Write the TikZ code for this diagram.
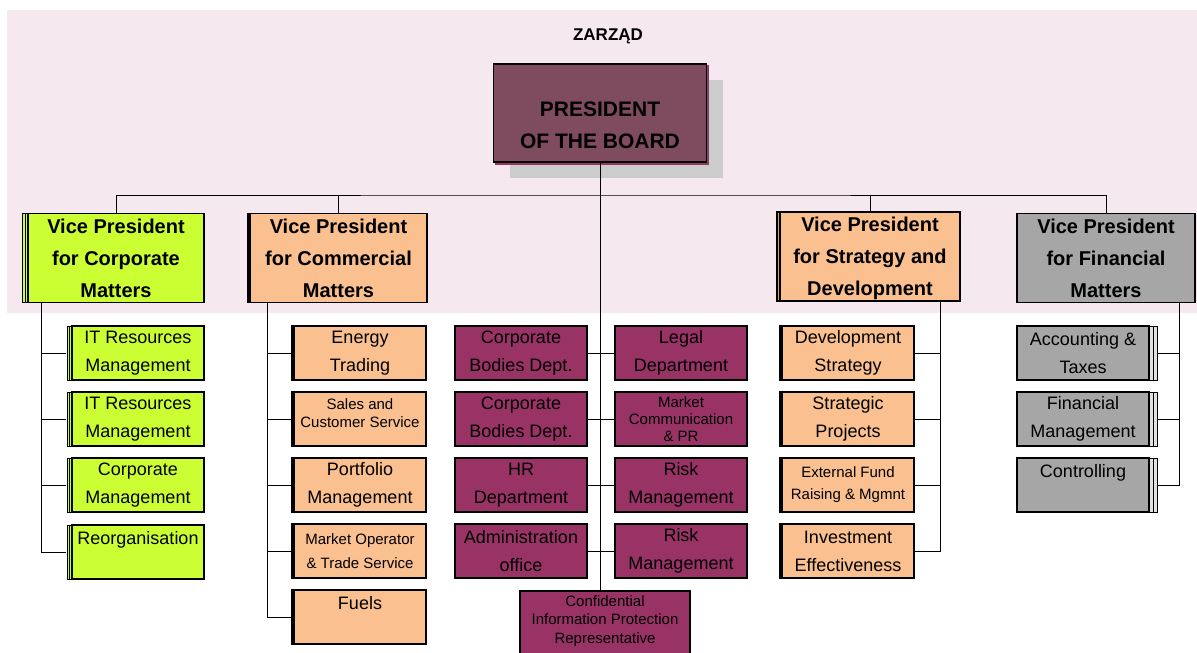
\documentclass[tikz,border=0pt]{standalone}
\usepackage{fontspec}
\setmainfont{Liberation Sans}
\usetikzlibrary{shadows}
\definecolor{bandpink}{HTML}{F5E8EE}
\definecolor{presred}{HTML}{7F4B5F}
\definecolor{deptred}{HTML}{993366}
\definecolor{limegreen}{HTML}{CCFF33}
\definecolor{salmon}{HTML}{FAC090}
\definecolor{midgray}{HTML}{A6A6A6}
\definecolor{stripeyellow}{HTML}{D7B43C}

\begin{document}
\begin{tikzpicture}
    [x=1pt, y=-1pt,
      box/.style={draw, line width=1.5pt, inner sep=0pt, align=center},
      vpbox/.style={box, minimum width=177pt, minimum height=89pt,
        font=\fontsize{20}{32}\selectfont\bfseries},
      unit/.style={box, minimum width=132pt, minimum height=54pt,
        font=\fontsize{18}{28}\selectfont},
      smallunit/.style={unit, font=\fontsize{15}{22}\selectfont},
      leftcopy/.style={copy shadow={shadow xshift=-2pt, shadow yshift=0pt}},
      link/.style={line width=1pt},
     ]
    \useasboundingbox (0,0) rectangle (1197,653);
    \clip (0,0) rectangle (1197,653);
    \fill[bandpink] (7,10) rectangle (1197,313);

    % board
    \node[font=\fontsize{17}{20}\selectfont\bfseries] (zarzad) at (608,36) {ZARZĄD};
    \node[box, fill=presred, minimum width=213pt, minimum height=98pt,
      font=\fontsize{21}{32}\selectfont\bfseries,
      general shadow={fill=black!20, shadow xshift=16pt, shadow yshift=-16pt},
      copy shadow={shadow xshift=2pt, shadow yshift=-2pt, draw=deptred}]
      (pres) at (600,113) {\mbox{}\\[8pt]PRESIDENT\\OF THE BOARD};

    % vice presidents
    \node[vpbox, fill=limegreen, minimum width=176pt,
      double copy shadow={shadow xshift=-3pt, shadow yshift=0pt, line width=0.8pt}]
      (vpcorp) at (116,258) {Vice President\\for Corporate\\Matters};
    \node[vpbox, fill=salmon, leftcopy] (vpcomm) at (338.5,258)
      {Vice President\\for Commercial\\Matters};
    \node[vpbox, fill=salmon, minimum width=180pt,
      copy shadow={shadow xshift=-3pt, shadow yshift=0pt, fill=stripeyellow}]
      (vpstrat) at (870,256.5) {Vice President\\for Strategy and\\Develo\smash{p}ment};
    \node[vpbox, fill=midgray, minimum width=178pt] (vpfin) at (1106,258)
      {Vice President\\for Financial\\Matters};

    % corporate matters
    \tikzset{corpunit/.style={unit, fill=limegreen,
      double copy shadow={shadow xshift=-2.5pt, shadow yshift=0pt, line width=0.8pt}}}
    \node[corpunit] (corp1) at (138,353) {IT Resources\\Management};
    \node[corpunit] (corp2) at (138,419) {IT Resources\\Management};
    \node[corpunit] (corp3) at (138,485) {Corporate\\Management};
    \node[corpunit] (corp4) at (138,552) {Reorganisation\\\mbox{}};

    % commercial matters
    \node[unit, fill=salmon, leftcopy] (comm1) at (360,353) {Energy\\Trading};
    \node[smallunit, fill=salmon, leftcopy, font=\fontsize{15}{18}\selectfont]
      (comm2) at (360,419) {Sales and\\Customer Service\\[-6pt]\mbox{}};
    \node[unit, fill=salmon, leftcopy] (comm3) at (360,485) {Portfolio\\Management};
    \node[smallunit, fill=salmon, leftcopy, font=\fontsize{15}{24}\selectfont]
      (comm4) at (360,551) {Market Operator\\\& Trade Service};
    \node[unit, fill=salmon, leftcopy] (comm5) at (360,617) {Fuels\\\mbox{}};

    % reporting to the president
    \node[unit, fill=deptred] (dl1) at (521,353) {Corporate\\Bodies Dept.};
    \node[unit, fill=deptred] (dl2) at (521,419) {Corporate\\Bodies Dept.};
    \node[unit, fill=deptred] (dl3) at (521,485) {HR\\Department};
    \node[unit, fill=deptred] (dl4) at (521,551) {Administration\\office};
    \node[unit, fill=deptred] (dr1) at (681,353) {Legal\\Department};
    \node[smallunit, fill=deptred, font=\fontsize{15}{17}\selectfont]
      (dr2) at (681,419) {Market\\Communication\\\& PR};
    \node[unit, fill=deptred] (dr3) at (681,485) {Risk\\Management};
    \node[unit, fill=deptred] (dr4) at (681,551) {Risk\\Management};
    \node[box, fill=deptred, minimum width=170pt, minimum height=80pt, anchor=north]
      (conf) at (605,590) {};
    \node[font=\fontsize{15}{18.5}\selectfont, align=center] (conftext) at (605,621)
      {Confidential\\Information Protection\\Representative};

    % strategy and development
    \node[unit, fill=salmon, leftcopy] (strat1) at (848,353) {Development\\Strategy};
    \node[unit, fill=salmon, leftcopy] (strat2) at (848,419) {Strategic\\Projects};
    \node[smallunit, fill=salmon, leftcopy] (strat3) at (848,485)
      {External Fund\\Raising \& Mgmnt};
    \node[unit, fill=salmon, leftcopy] (strat4) at (848,551) {Investment\\Effectiveness};

    % financial matters
    \tikzset{finunit/.style={unit, fill=midgray,
      double copy shadow={shadow xshift=4pt, shadow yshift=0pt, fill=black!12,
        line width=0.8pt}}}
    \node[finunit] (fin1) at (1083,353) {Accounting \&\\Taxes};
    \node[finunit] (fin2) at (1083,419) {Financial\\Management};
    \node[finunit] (fin3) at (1083,485) {Controlling\\\mbox{}};

    % connectors
    \coordinate (bus) at (600,195);
    \draw[link] (pres.south) -- (pres.south |- conf.north);
    \draw[link] (vpcorp.north) |- (bus) -| (vpfin.north);
    \draw[link] (vpcomm.north) -- (vpcomm.north |- bus);
    \draw[link] (vpstrat.north) -- (vpstrat.north |- bus);

    \coordinate (corpspine) at ([xshift=14pt]vpcorp.south west);
    \draw[link] (corpspine) |- ([xshift=-5pt]corp4.west);
    \foreach \i in {1,2,3}
      \draw[link] (corpspine |- corp\i.west) -- ([xshift=-5pt]corp\i.west);

    \coordinate (commspine) at ([xshift=18pt]vpcomm.south west);
    \draw[link] (commspine) |- ([xshift=-2pt]comm5.west);
    \foreach \i in {1,...,4}
      \draw[link] (commspine |- comm\i.west) -- ([xshift=-2pt]comm\i.west);

    \foreach \i in {1,...,4}
      \draw[link] (dl\i.east) -- (dr\i.west);

    \coordinate (stratspine) at ([xshift=-20pt]vpstrat.south east);
    \draw[link] (stratspine) |- (strat4.east);
    \foreach \i in {1,2,3}
      \draw[link] (stratspine |- strat\i.east) -- (strat\i.east);

    \coordinate (finspine) at ([xshift=-16pt]vpfin.south east);
    \draw[link] (finspine) |- ([xshift=8pt]fin3.east);
    \foreach \i in {1,2}
      \draw[link] (finspine |- fin\i.east) -- ([xshift=8pt]fin\i.east);
\end{tikzpicture}
\end{document}
